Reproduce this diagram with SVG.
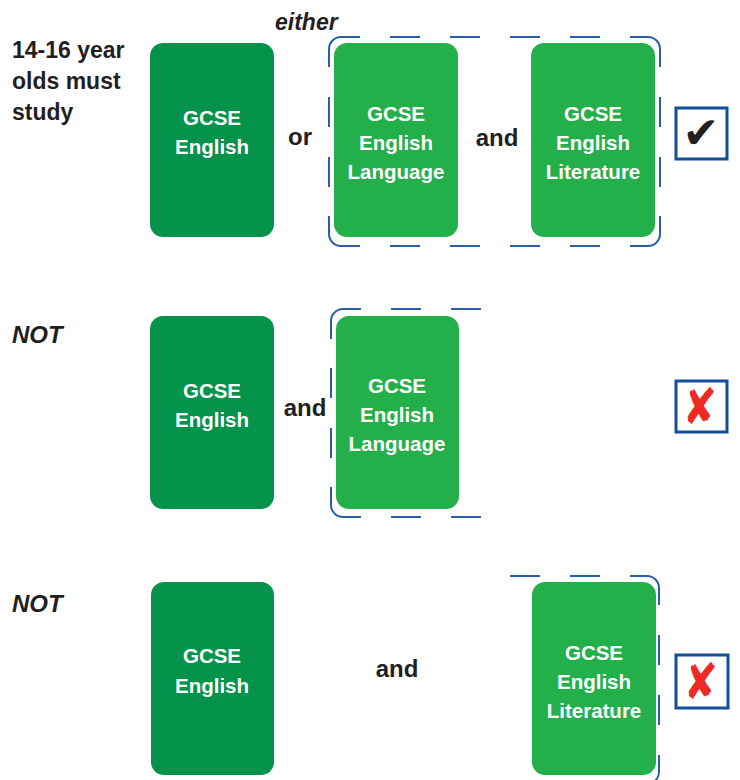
<svg xmlns="http://www.w3.org/2000/svg" width="740" height="780" viewBox="0 0 740 780">
<style>
.lbl{font-family:"Liberation Sans",Arial,sans-serif;font-weight:bold;font-size:23px;fill:#231f20}
.it{font-style:italic}
.op{font-size:24px;text-anchor:middle}
.dark{fill:#05924a}
.light{fill:#23b04b}
.bt{font-family:"Liberation Sans",Arial,sans-serif;font-weight:bold;font-size:20.5px;fill:#ffffff;text-anchor:middle}
.brk{fill:none;stroke:#2a5fa6;stroke-width:2}
.cb{fill:#ffffff;stroke:#134e98;stroke-width:3}
.sym{font-family:"DejaVu Sans",sans-serif;text-anchor:middle}
.tick{font-size:44px;fill:#231f20}
.cross{font-size:50px;fill:#ee2a24}
</style>
<rect width="740" height="780" fill="#ffffff"/>

<g id="intro">
<text class="lbl" x="12" y="58">14-16 year</text>
<text class="lbl" x="12" y="89">olds must</text>
<text class="lbl" x="12" y="120">study</text>
</g>
<text class="lbl it" x="275" y="30">either</text>
<text class="lbl it" x="12" y="343" style="font-size:24px">NOT</text>
<text class="lbl it" x="12" y="612" style="font-size:24px">NOT</text>

<g id="connectors">
<path class="brk" d="M329,67 V49 A12,12 0 0 1 341,37 H360 M390,37 H420 M450,37 H480 M510,37 H540 M570,37 H600 M630,37 H648 A12,12 0 0 1 660,49 V67 M660,97 V127 M660,157 V187 M660,216 V234 A12,12 0 0 1 648,246 H630 M600,246 H570 M540,246 H510 M480,246 H450 M420,246 H390 M360,246 H341 A12,12 0 0 1 329,234 V216 M329,187 V157 M329,127 V97"/>
<path class="brk" d="M331,339 V321 A12,12 0 0 1 343,309 H361 M391,309 H421 M451,309 H481 M481,517 H451 M421,517 H391 M361,517 H343 A12,12 0 0 1 331,505 V487 M331,458 V428 M331,398 V368"/>
<path class="brk" d="M510,576 H540 M570,576 H600 M630,576 H647 A12,12 0 0 1 659,588 V605 M659,635 V665 M659,695 V725 M659,755 V772 A12,12 0 0 1 647,784 H630"/>
</g>

<g id="r1-english">
<rect class="dark" x="150" y="43" width="124" height="194" rx="13"/>
<text class="bt" x="212" y="125">GCSE</text>
<text class="bt" x="212" y="154">English</text>
</g>
<text class="lbl op" x="300" y="145">or</text>
<g id="r1-language">
<rect class="light" x="334" y="43" width="124" height="194" rx="13"/>
<text class="bt" x="396" y="121">GCSE</text>
<text class="bt" x="396" y="150">English</text>
<text class="bt" x="396" y="179">Language</text>
</g>
<text class="lbl op" x="497" y="146">and</text>
<g id="r1-literature">
<rect class="light" x="531" y="43" width="124" height="194" rx="13"/>
<text class="bt" x="593" y="121">GCSE</text>
<text class="bt" x="593" y="150">English</text>
<text class="bt" x="593" y="179">Literature</text>
</g>
<g id="r1-check">
<rect class="cb" x="676" y="108" width="51" height="51"/>
<text class="sym tick" x="701" y="148">✔</text>
</g>

<g id="r2-english">
<rect class="dark" x="150" y="316" width="124" height="193" rx="13"/>
<text class="bt" x="212" y="398">GCSE</text>
<text class="bt" x="212" y="427">English</text>
</g>
<text class="lbl op" x="305" y="416">and</text>
<g id="r2-language">
<rect class="light" x="336" y="316" width="123" height="193" rx="13"/>
<text class="bt" x="397" y="393">GCSE</text>
<text class="bt" x="397" y="422">English</text>
<text class="bt" x="397" y="451">Language</text>
</g>
<g id="r2-cross">
<rect class="cb" x="676" y="381" width="51" height="51"/>
<text class="sym cross" transform="translate(700,424) scale(0.82,1)">✘</text>
</g>

<g id="r3-english">
<rect class="dark" x="151" y="582" width="123" height="193" rx="13"/>
<text class="bt" x="212" y="663">GCSE</text>
<text class="bt" x="212" y="693">English</text>
</g>
<text class="lbl op" x="397" y="677">and</text>
<g id="r3-literature">
<rect class="light" x="532" y="582" width="124" height="193" rx="13"/>
<text class="bt" x="594" y="660">GCSE</text>
<text class="bt" x="594" y="689">English</text>
<text class="bt" x="594" y="718">Literature</text>
</g>
<g id="r3-cross">
<rect class="cb" x="676" y="655" width="52" height="53"/>
<text class="sym cross" transform="translate(701,699) scale(0.82,1)">✘</text>
</g>
</svg>
